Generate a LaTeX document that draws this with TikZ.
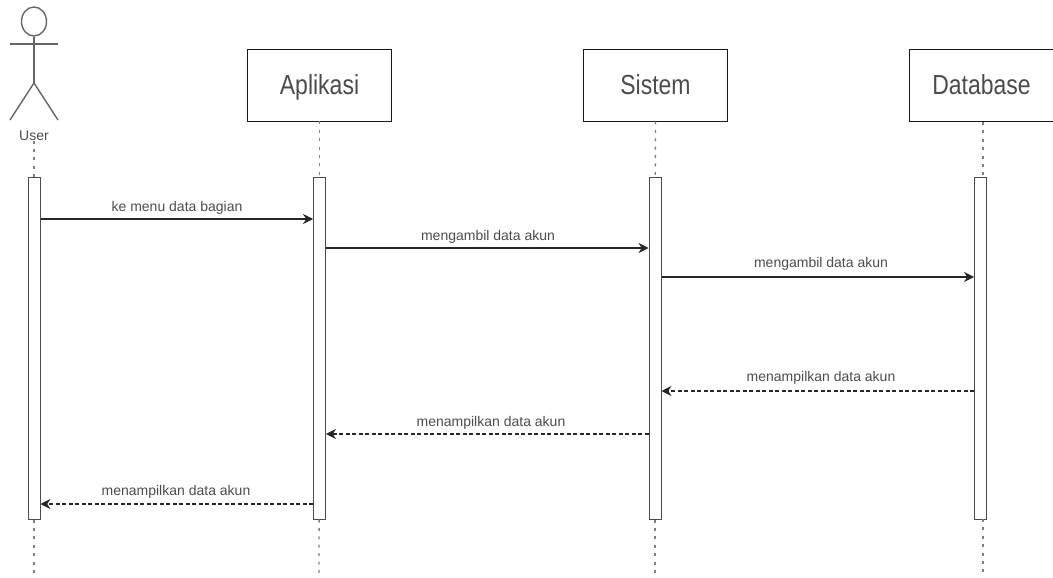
\documentclass[tikz,border=0pt]{standalone}
\usepackage{fontspec}
\setmainfont{Liberation Sans}
\usetikzlibrary{arrows.meta,shapes.geometric}
\definecolor{linegray}{gray}{0.3}
\definecolor{textgray}{gray}{0.3}
\newcommand{\tallname}[1]{\scalebox{1}[1.2]{#1}}
\tikzset{
  headbox/.style={draw=black!90,line width=0.9pt,fill=white,minimum width=144pt,minimum height=72pt,
    inner sep=0pt,text height=22pt,text depth=2pt,text=textgray,font=\fontsize{23}{26}\selectfont},
  activebar/.style={draw=linegray,line width=1pt,fill=white,minimum width=12pt,minimum height=342pt,inner sep=0pt},
  lifeline/.style={draw=black!50,line width=1.3pt,dash pattern=on 3pt off 5.4pt},
  callmsg/.style={draw=black!85,line width=1.1pt,-{Stealth[length=10pt,width=10pt]}},
  backmsg/.style={draw=black!85,line width=1.1pt,dash pattern=on 4pt off 2.5pt,-{Stealth[length=10pt,width=10pt]}},
  msglabel/.style={text=textgray,font=\fontsize{14}{16}\selectfont,inner sep=0pt},
  actorline/.style={draw=black!60,line width=1.4pt}
}
\begin{document}
\begin{tikzpicture}[x=1pt,y=-1pt]
\useasboundingbox (0,0) rectangle (1053,578);
% heads
\node[headbox] (aplikasi) at (319.5,85) {\tallname{Aplikasi}};
\node[headbox] (sistem) at (655.5,85) {\tallname{Sistem}};
\node[headbox] (database) at (981.5,85) {\tallname{Database}};
% actor
\node[actorline,draw,ellipse,minimum width=25pt,minimum height=29pt,inner sep=0pt] (head) at (34,21.5) {};
\coordinate (hip) at (34,83);
\coordinate (armL) at (9.5,44);
\coordinate (armR) at (58,44);
\coordinate (footL) at (10,120);
\coordinate (footR) at (58,120);
\draw[actorline] (head) -- (hip);
\draw[actorline] (armL) -- (armR);
\draw[actorline] (footL) -- (hip) -- (footR);
\node[msglabel] (user) at (34,135.5) {User};
% bars
\node[activebar] (barUser) at (34,348) {};
\node[activebar] (barAplikasi) at (319.5,348) {};
\node[activebar] (barSistem) at (655,348) {};
\node[activebar] (barDatabase) at (980.5,348) {};
% lifelines
\coordinate (endUser) at (34,578);
\coordinate (endAplikasi) at (319,578);
\coordinate (endSistem) at (655,578);
\coordinate (endDatabase) at (983,578);
\coordinate (topDatabase) at (983,122);
\coordinate (midDatabase) at (983,177);
\coordinate (lowDatabase) at (983,519);
\draw[lifeline] (user) -- (barUser);
\draw[lifeline] (barUser) -- (endUser);
\draw[lifeline] (aplikasi) -- (barAplikasi);
\draw[lifeline] (barAplikasi) -- (endAplikasi);
\draw[lifeline] (sistem) -- (barSistem);
\draw[lifeline] (barSistem) -- (endSistem);
\draw[lifeline] (topDatabase) -- (midDatabase);
\draw[lifeline] (lowDatabase) -- (endDatabase);
% messages
\coordinate (row1) at (0,219);
\coordinate (row2) at (0,248);
\coordinate (row3) at (0,277);
\coordinate (row4) at (0,391);
\coordinate (row5) at (0,434);
\coordinate (row6) at (0,504);
\draw[callmsg] (barUser.east |- row1) -- (barAplikasi.west |- row1);
\draw[callmsg] (barAplikasi.east |- row2) -- (barSistem.west |- row2);
\draw[callmsg] (barSistem.east |- row3) -- (barDatabase.west |- row3);
\draw[backmsg] (barDatabase.west |- row4) -- (barSistem.east |- row4);
\draw[backmsg] (barSistem.west |- row5) -- (barAplikasi.east |- row5);
\draw[backmsg] (barAplikasi.west |- row6) -- (barUser.east |- row6);
% labels
\node[msglabel] (lbl1) at (177,207.5) {ke menu data bagian};
\node[msglabel] (lbl2) at (488,236.5) {mengambil data akun};
\node[msglabel] (lbl3) at (821,263.5) {mengambil data akun};
\node[msglabel] (lbl4) at (821,377.5) {menampilkan data akun};
\node[msglabel] (lbl5) at (491,422.5) {menampilkan data akun};
\node[msglabel] (lbl6) at (176,491.5) {menampilkan data akun};
\end{tikzpicture}
\end{document}
